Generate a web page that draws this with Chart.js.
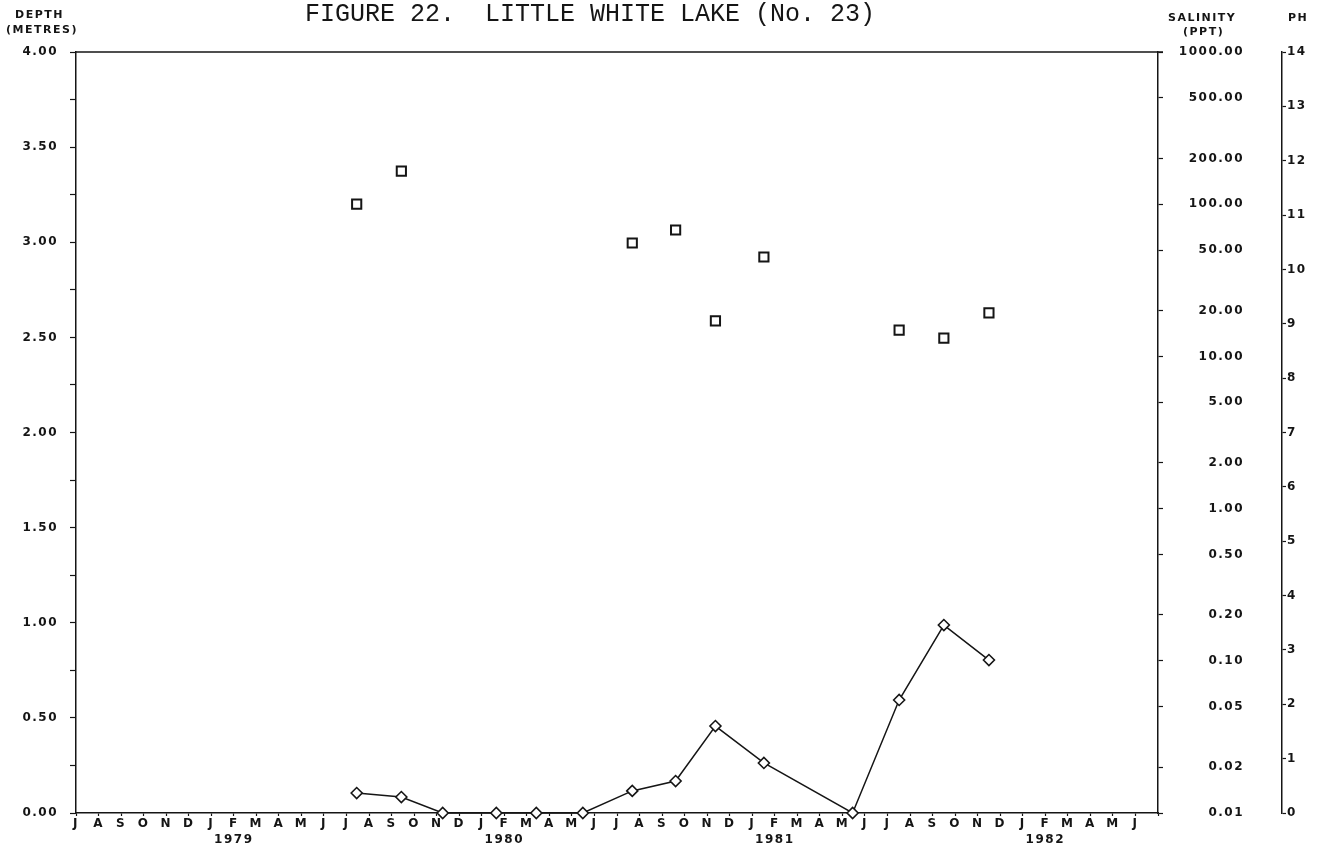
<!DOCTYPE html>
<html>
<head>
<meta charset="utf-8">
<title>Little White Lake (No. 23)</title>
<script src="https://cdn.jsdelivr.net/npm/chart.js@4.4.1/dist/chart.umd.min.js"></script>
<style>
  html, body { margin: 0; padding: 0; background: #fff; }
  #wrap { position: relative; width: 1322px; height: 851px; overflow: hidden; background: #fff; }
  #c { position: absolute; left: 0; top: 0; }
  .hdr { position: absolute; font-family: "DejaVu Sans", sans-serif; font-weight: bold; font-size: 11px;
         color: #151515; white-space: pre; line-height: 1; letter-spacing: 1.5px; }
  #title { position: absolute; left: 305px; top: 0px; font-family: "Liberation Mono", monospace;
           font-size: 25px; color: #151515; white-space: pre; line-height: 1.2; }
</style>
</head>
<body>
<div id="wrap">
  <canvas id="c" width="1322" height="851"></canvas>
  <div id="title">FIGURE 22.  LITTLE WHITE LAKE (No. 23)</div>
  <div class="hdr" style="left:15px; top:9px;">DEPTH</div>
  <div class="hdr" style="left:6px; top:24px;">(METRES)</div>
  <div class="hdr" style="left:1168px; top:12px;">SALINITY</div>
  <div class="hdr" style="left:1183px; top:26px;">(PPT)</div>
  <div class="hdr" style="left:1288px; top:12px;">PH</div>
</div>
<script>
// Sampling dates and measurements
const depthDates = ['1979-07-15', '1979-09-14', '1979-11-09', '1980-01-21', '1980-03-14', '1980-05-16',
                    '1980-07-22', '1980-09-19', '1980-11-12', '1981-01-17', '1981-05-15', '1981-07-17',
                    '1981-09-16', '1981-11-16'];
const depthMetres = [0.105, 0.084, 0, 0, 0, 0, 0.116, 0.168, 0.457, 0.263, 0, 0.594, 0.988, 0.804];

const salinityDates = ['1979-07-15', '1979-09-14', '1980-07-22', '1980-09-19', '1980-11-12', '1981-01-17',
                       '1981-07-17', '1981-09-16', '1981-11-16'];
const salinityPpt = [100, 165, 55.6, 67.7, 17.1, 45, 14.9, 13.2, 19.3];

// Axis labels
const monthLetters = ['J','A','S','O','N','D','J','F','M','A','M','J',
                      'J','A','S','O','N','D','J','F','M','A','M','J',
                      'J','A','S','O','N','D','J','F','M','A','M','J',
                      'J','A','S','O','N','D','J','F','M','A','M','J'];
const yearLabels = ['1979', '1980', '1981', '1982'];
const depthTicks = [0, 0.25, 0.5, 0.75, 1, 1.25, 1.5, 1.75, 2, 2.25, 2.5, 2.75, 3, 3.25, 3.5, 3.75, 4];
const salinityTicks = [0.01, 0.02, 0.05, 0.1, 0.2, 0.5, 1, 2, 5, 10, 20, 50, 100, 200, 500, 1000];
const phTicks = [0, 1, 2, 3, 4, 5, 6, 7, 8, 9, 10, 11, 12, 13, 14];

// Time axis runs in months counted from 1 July 1978
function monthsSinceStart(d) {
  const [y, m, day] = d.split('-').map(Number);
  const daysInMonth = new Date(y, m, 0).getDate();
  return (y - 1978) * 12 + (m - 7) + (day - 1) / daysInMonth;
}

const depthPoints = depthDates.map((d, i) => ({ x: monthsSinceStart(d), y: depthMetres[i] }));
const salinityPoints = salinityDates.map((d, i) => ({ x: monthsSinceStart(d), y: salinityPpt[i] }));

const INK = '#151515';
const tickFont = { family: '"DejaVu Sans", sans-serif', weight: 'bold', size: 12, lineHeight: 1.35 };

// Plotter-style spaced lettering on the axes
const spacingPlugin = {
  id: 'spacing',
  beforeLayout(chart) { chart.ctx.letterSpacing = '1.5px'; },
  beforeDraw(chart) { chart.ctx.letterSpacing = '1.5px'; }
};

// Closes the frame along the top of the plotting area
const frameTop = {
  id: 'frameTop',
  afterDraw(chart) {
    const { ctx, chartArea } = chart;
    ctx.save();
    ctx.strokeStyle = INK;
    ctx.lineWidth = 1.5;
    ctx.beginPath();
    ctx.moveTo(chartArea.left, chartArea.top);
    ctx.lineTo(chartArea.right + 5, chartArea.top);
    ctx.stroke();
    ctx.restore();
  }
};

new Chart(document.getElementById('c'), {
  data: {
    datasets: [
      {
        type: 'line',
        label: 'Depth',
        data: depthPoints,
        yAxisID: 'y',
        borderColor: INK,
        borderWidth: 1.5,
        tension: 0,
        pointStyle: 'rectRot',
        pointRadius: 5.5,
        pointBorderWidth: 1.6,
        pointBackgroundColor: '#fff',
        pointBorderColor: INK,
        clip: false
      },
      {
        type: 'scatter',
        label: 'Salinity',
        data: salinityPoints,
        yAxisID: 'y2',
        showLine: false,
        pointStyle: 'rect',
        pointRadius: 6.5,
        pointBorderWidth: 2,
        pointBackgroundColor: '#fff',
        pointBorderColor: INK,
        clip: false
      }
    ]
  },
  options: {
    responsive: false,
    animation: false,
    events: [],
    layout: { padding: { top: 52, left: 0, right: 0, bottom: 0 } },
    plugins: { legend: { display: false }, tooltip: { enabled: false }, title: { display: false } },
    scales: {
      x: {
        type: 'linear',
        position: 'bottom',
        min: 0,
        max: 48,
        afterBuildTicks: s => { s.ticks = Array.from({ length: 49 }, (_, i) => ({ value: i })); },
        afterFit: s => { s.height = 38; },
        ticks: {
          autoSkip: false,
          maxRotation: 0,
          padding: 0,
          color: INK,
          font: tickFont,
          callback: v => {
            if (v >= monthLetters.length) return '';
            const yi = [7, 19, 31, 43].indexOf(v);
            return yi >= 0 ? [monthLetters[v], yearLabels[yi]] : monthLetters[v];
          }
        },
        grid: { drawOnChartArea: false, tickLength: 3, tickWidth: 1.2, tickColor: INK },
        border: { color: INK, width: 1.5 }
      },
      y: {
        type: 'linear',
        position: 'left',
        min: 0,
        max: 4,
        afterBuildTicks: s => { s.ticks = depthTicks.map(v => ({ value: v })); },
        afterFit: s => { s.width = 76; },
        ticks: {
          padding: 12,
          color: INK,
          font: tickFont,
          callback: v => (Math.round(v * 100) % 50 === 0 ? v.toFixed(2) : '')
        },
        grid: { drawOnChartArea: false, tickLength: 6, tickWidth: 1.2, tickColor: INK },
        border: { color: INK, width: 1.5 }
      },
      y2: {
        type: 'logarithmic',
        position: 'right',
        weight: 0,
        min: 0.01,
        max: 1000,
        afterBuildTicks: s => { s.ticks = salinityTicks.map(v => ({ value: v })); },
        afterFit: s => { s.width = 86; },
        ticks: {
          padding: 9,
          crossAlign: 'far',
          color: INK,
          font: tickFont,
          callback: v => Number(v).toFixed(2)
        },
        grid: { drawOnChartArea: false, tickLength: 5, tickWidth: 1.2, tickColor: INK },
        border: { color: INK, width: 1.5 }
      },
      gap: {
        type: 'linear',
        position: 'right',
        weight: 0.5,
        display: true,
        ticks: { display: false },
        grid: { display: false },
        border: { display: false },
        afterFit: s => { s.width = 38; }
      },
      ph: {
        type: 'linear',
        position: 'right',
        weight: 1,
        min: 0,
        max: 14,
        afterBuildTicks: s => { s.ticks = phTicks.map(v => ({ value: v })); },
        afterFit: s => { s.width = 40; },
        ticks: {
          padding: 1,
          color: INK,
          font: tickFont,
          callback: v => String(v)
        },
        grid: { drawOnChartArea: false, tickLength: 4, tickWidth: 1.2, tickColor: INK },
        border: { color: INK, width: 1.5 }
      }
    }
  },
  plugins: [spacingPlugin, frameTop]
});
</script>
</body>
</html>
